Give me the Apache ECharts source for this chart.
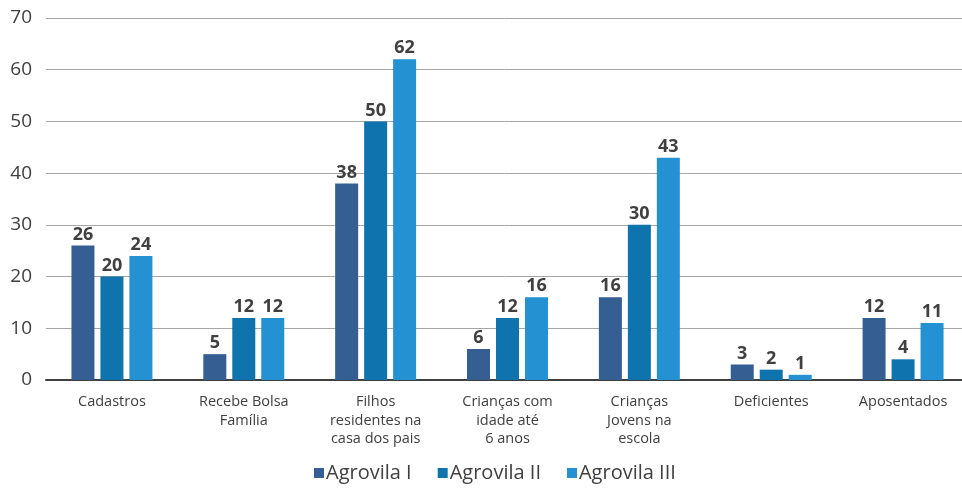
<!DOCTYPE html>
<html><head><meta charset="utf-8">
<script src="https://cdn.jsdelivr.net/npm/echarts@6/dist/echarts.min.js"></script>
<style>html,body{margin:0;padding:0;background:#fff}#c{width:962px;height:489px}</style>
</head><body><div id="c"></div>
<script>
var categories = ['Cadastros', 'Recebe Bolsa\nFamília', 'Filhos\nresidentes na\ncasa dos pais', 'Crianças com\nidade até\n6 anos', 'Crianças\nJovens na\nescola', 'Deficientes', 'Aposentados'];
var seriesNames = ['Agrovila I', 'Agrovila II', 'Agrovila III'];
var agrovila1 = [26, 5, 38, 6, 16, 3, 12];
var agrovila2 = [20, 12, 50, 12, 30, 2, 4];
var agrovila3 = [24, 12, 62, 16, 43, 1, 11];
var colors = ['#355f93', '#0f73ad', '#2391d2'];
var font = '"Open Sans", "Noto Sans", sans-serif';
var chart = echarts.init(document.getElementById('c'));
function mk(name, data, i) {
  return {
    name: name, type: 'bar', data: data, barWidth: 23, barGap: '26%',
    itemStyle: { color: colors[i] },
    label: { show: true, position: 'top', distance: 2, color: '#404040', fontSize: 18, fontWeight: 'bold', fontFamily: font }
  };
}
chart.setOption({
  animation: false,
  color: colors,
  grid: { left: 46, width: 923, top: 18, bottom: 109, outerBoundsMode: 'none', containLabel: false },
  legend: {
    bottom: 1, left: 309, itemWidth: 10, itemHeight: 10, itemGap: 26, icon: 'rect',
    textStyle: { color: '#404040', fontSize: 20, fontFamily: font, padding: [0, 0, 0, -3] },
    data: seriesNames
  },
  xAxis: {
    type: 'category', data: categories,
    axisLine: { lineStyle: { color: '#404040', width: 2 } },
    axisTick: { show: false },
    axisLabel: { color: '#404040', fontSize: 14.5, fontFamily: font, lineHeight: 18.5, margin: 13, interval: 0 }
  },
  yAxis: {
    type: 'value', min: 0, max: 70, interval: 10,
    axisLine: { show: false }, axisTick: { show: false },
    splitLine: { lineStyle: { color: '#a6a6a6', width: 1 } },
    axisLabel: { color: '#404040', fontSize: 19, fontFamily: font, margin: 14 }
  },
  series: [mk(seriesNames[0], agrovila1, 0), mk(seriesNames[1], agrovila2, 1), mk(seriesNames[2], agrovila3, 2)]
});
</script></body></html>
